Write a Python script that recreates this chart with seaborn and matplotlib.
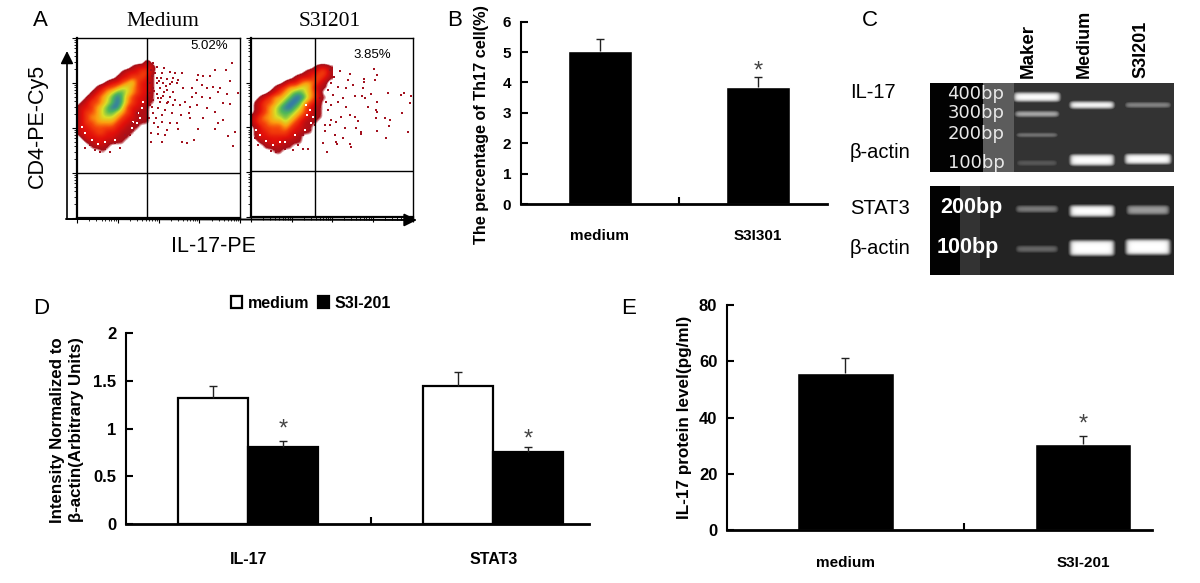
import numpy as np
import pandas as pd
import matplotlib
matplotlib.use("Agg")
import matplotlib.pyplot as plt
from matplotlib.colors import LinearSegmentedColormap
from matplotlib import font_manager as fm
import seaborn as sns

# ---------- data ----------
b_groups = ["medium", "S3I301"]
b_values = [5.02, 3.85]
b_tops = [5.42, 4.17]

d_genes = ["IL-17", "IL-17", "STAT3", "STAT3"]
d_treat = ["medium", "S3I-201", "medium", "S3I-201"]
d_values = [1.32, 0.81, 1.45, 0.75]
d_tops = [1.45, 0.87, 1.59, 0.81]

e_groups = ["medium", "S3I-201"]
e_values = [55.7, 30.5]
e_tops = [61.2, 33.5]

# flow-plot density levels (0 empty ... 7 blue core)
medium_density = [
    "00000000000000000", "00000000000000200", "00000000000122220", "00000000012223310",
    "00000000122333210", "00000012234532210", "00001233455432210", "00012345665432210",
    "00123456764322110", "01233456764322110", "12234567753221100", "12334566543211100",
    "12344555432211100", "12334444322111100", "12233333221110000", "12223322211100000",
    "01222222111000000", "00112211110000000", "00011110000000000", "00000100000000000",
    "00000000000000000"]
s3i_density = [
    "00000000000000000", "00000000000000000", "00000000000001221", "00000000000122331",
    "00000000012223321", "00000001223443210", "00000123445542110", "00001234566543100",
    "00123445677643110", "01233456776432100", "01234567765321100", "01234566654321100",
    "12344556543211100", "12334445432111000", "01233334322110000", "01223333221110000",
    "01222222211000000", "00112221111000000", "00011111100000000", "00000110000000000",
    "00000000000000000"]
medium_dots_x = [235,245,268,228,240,262,285,300,320,245,258,275,295,310,225,245,265,285,305,325,235,255,275,295,225,245,265,285,300,235,255,275,225,250,270,295,315,345,365,235,260,290,318,342,238,260,285,305,222,248,275,310,368,228,250,270,228,262,322,335,358,368,385,405,420,452,470,365,380,350,362,380,405,430,445,465,395,420,385,345,445,430,420,460,480,490,475,465,435,455,330,350,395,415,60,75,105,30,120,135,150,165,175,190,200,185,170,45,90,232,252,272,238,248,268,292,232,258,242,280]
medium_dots_y = [25,35,38,45,55,55,50,55,55,70,68,72,70,75,85,85,85,88,85,98,100,100,105,110,115,118,122,125,135,135,140,145,150,160,165,150,150,155,150,175,180,175,180,175,205,200,205,205,190,215,225,222,222,235,238,240,260,262,262,265,255,60,62,62,45,45,25,75,90,100,115,125,128,112,145,148,160,170,190,190,195,205,222,242,230,115,272,78,100,118,140,125,100,95,285,290,290,280,265,280,240,240,225,210,195,175,205,270,282,62,78,92,108,130,112,80,155,128,190,140]
s3i_dots_x = [245,275,305,258,348,348,382,378,388,300,315,250,270,295,345,240,255,285,320,342,352,368,420,460,468,490,485,235,250,270,295,388,360,385,388,462,240,280,305,320,385,410,425,250,265,330,230,245,290,325,422,230,265,268,340,340,388,262,285,305,310,238,225,415,480,180,165,70,85,110,135,150,165,185,30,20,200,215]
s3i_dots_y = [45,48,58,65,72,80,75,42,60,75,90,85,95,100,100,105,120,130,122,122,128,118,115,120,115,122,145,140,150,140,155,140,155,165,172,175,165,185,180,185,190,190,195,195,200,198,210,210,220,220,212,228,260,268,230,238,228,240,250,268,275,290,265,248,232,282,282,288,292,282,285,270,240,225,270,250,210,130]
# small gaps in the fringe of each cloud
medium_gaps_x = [175,190,200,185,170,30,50,90,205,195,180,120,70,20]
medium_gaps_y = [200,175,160,205,220,235,255,260,140,190,235,255,268,215]
s3i_gaps_x = [178,190,170,185,140,35,55,95,195,175,110,75,25]
s3i_gaps_y = [180,205,225,165,240,240,258,262,185,150,262,270,225]

# gel bands: lane centre, half width, band position, half height, brightness
gel1_lane = [107, 107, 107, 107, 162, 162, 218, 218]
gel1_half = [23, 22, 21, 21, 22, 22, 23, 23]
gel1_pos = [14, 31, 52, 80, 22, 77, 22, 76]
gel1_thick = [4.5, 3, 2.5, 3.5, 3.5, 5.5, 3, 5]
gel1_bright = [1.0, 0.7, 0.5, 0.36, 1.0, 1.0, 0.55, 1.0]
gel2_lane = [107, 107, 162, 162, 218, 218]
gel2_half = [21, 21, 22, 22, 21, 22]
gel2_pos = [23, 63, 25, 62, 24, 61]
gel2_thick = [3.5, 3.5, 5.5, 7.5, 4.5, 7.5]
gel2_bright = [0.5, 0.42, 1.0, 1.0, 0.62, 1.0]

# ---------- style ----------
sns.set_style("ticks")
W, H = 1200, 583
SANS = "Liberation Sans"
plt.rcParams["font.family"] = [SANS, "DejaVu Sans"]
plt.rcParams["axes.edgecolor"] = "black"
plt.rcParams["xtick.color"] = "black"
plt.rcParams["ytick.color"] = "black"
plt.rcParams["text.color"] = "black"
plt.rcParams["axes.labelcolor"] = "black"

fig = plt.figure(figsize=(W / 100, H / 100), dpi=100, facecolor="white")


def ax_px(l, t, r, b):
    return fig.add_axes([l / W, 1 - b / H, (r - l) / W, (b - t) / H])


flow_cmap = LinearSegmentedColormap.from_list(
    "flow",
    [(0.0, "white"), (0.5 / 7, "white"), (0.85 / 7, "#a80f18"), (2 / 7, "#e2100a"), (3 / 7, "#f4400a"),
     (4 / 7, "#fca010"), (5 / 7, "#d8e028"), (6 / 7, "#50b858"), (1.0, "#2f6fb4")])


def flow_panel(box, density, dx, dy, gx, gy, xlim, ylim, gate_x, gate_y):
    ax = ax_px(*box)
    grid = np.array([[int(c) for c in row] for row in density], dtype=float)
    ax.imshow(grid, cmap=flow_cmap, vmin=0, vmax=7, extent=(0, 255, 315, 0), aspect="auto",
              interpolation="bicubic", interpolation_stage="data", zorder=1)
    sns.scatterplot(x=gx, y=gy, marker="s", s=2, color="white", linewidth=0, ax=ax, zorder=2, legend=False)
    sns.scatterplot(x=dx, y=dy, marker="s", s=3.6, color="#a3121f", linewidth=0, ax=ax, zorder=3, legend=False)
    ax.set_xlim(*xlim)
    ax.set_ylim(*ylim)
    ax.axvline(gate_x, color="black", lw=1, zorder=5)
    ax.axhline(gate_y, color="black", lw=1, zorder=5)
    span_x = (xlim[1] - xlim[0]) / 4
    span_y = (ylim[0] - ylim[1]) / 4
    ax.set_xticks([xlim[0] + span_x * k for k in range(5)])
    ax.set_yticks([ylim[0] - span_y * k for k in range(5)])
    ax.set_xticks([xlim[0] + span_x * (k + np.log10(m)) for k in range(4) for m in range(2, 10)], minor=True)
    ax.set_yticks([ylim[0] - span_y * (k + np.log10(m)) for k in range(4) for m in range(2, 10)], minor=True)
    ax.tick_params(which="major", length=3.5, width=0.8, labelleft=False, labelbottom=False, direction="out")
    ax.tick_params(which="minor", length=2, width=0.6, direction="out")
    for s in ax.spines.values():
        s.set_linewidth(1.0)
    ax.spines["left"].set_linewidth(1.6)
    ax.spines["bottom"].set_linewidth(1.6)
    return ax


flow_panel((77, 38, 240, 218), medium_density, medium_dots_x, medium_dots_y, medium_gaps_x, medium_gaps_y,
           (6, 495), (489, -51), 216, 354)
flow_panel((251, 38, 413, 217), s3i_density, s3i_dots_x, s3i_dots_y, s3i_gaps_x, s3i_gaps_y,
           (9, 495), (486, -51), 201, 348)


def bar_axes(ax, ylim, yticks, ylabels, xlim, tick_size, cat_size):
    ax.set_xlim(*xlim)
    ax.set_ylim(*ylim)
    ax.set_yticks(yticks)
    ax.set_yticklabels(ylabels, fontsize=tick_size, fontweight="bold")
    for lab in ax.get_xticklabels():
        lab.set_fontsize(cat_size)
        lab.set_fontweight("bold")
    ax.set_xticks([0.5], minor=True)
    ax.tick_params(axis="x", which="major", length=0)
    ax.tick_params(axis="x", which="minor", length=5, width=1.5, direction="in")
    ax.tick_params(axis="y", length=5, width=1.5, direction="in", pad=7)
    sns.despine(ax=ax)
    ax.spines["left"].set_linewidth(1.5)
    ax.spines["bottom"].set_linewidth(2)
    ax.spines["bottom"].set_zorder(6)
    ax.set_xlabel("")


def err(ax, xs, values, tops):
    vals = np.array(values)
    bars = ax.errorbar(xs, vals, yerr=[np.zeros_like(vals), np.array(tops) - vals], fmt="none", ecolor="#222222",
                       elinewidth=1, capsize=2.6, capthick=1, zorder=1)
    bars[1][0].set_visible(False)


def star(ax, x, y, dy):
    ax.annotate("*", (x, y), xytext=(0, dy), textcoords="offset points", ha="center", va="center",
                fontsize=17, color="#444444")


# ---------- B ----------
axb = ax_px(521, 21.7, 827, 204)
sns.barplot(x=b_groups, y=b_values, order=b_groups, color="black", saturation=1, width=0.41, ax=axb, errorbar=None)
err(axb, [0, 1], b_values, b_tops)
bar_axes(axb, (0, 6), range(7), list("0123456"), (-0.5, 1.437), 11, 11)
axb.tick_params(axis="x", which="major", pad=18)
axb.set_ylabel("The percentage of Th17 cell(%)", fontsize=11.7, fontweight="bold")
axb.yaxis.set_label_coords((489 - 521) / 306, (204 - 125) / 182.3)
star(axb, 1, b_tops[1], 4)

# ---------- D ----------
axd = ax_px(126, 333.3, 589, 524)
frame_d = pd.DataFrame({"gene": d_genes, "treatment": d_treat, "value": d_values})
sns.barplot(data=frame_d, x="gene", y="value", hue="treatment", hue_order=["medium", "S3I-201"],
            palette={"medium": "white", "S3I-201": "black"}, saturation=1, width=0.57, edgecolor="black",
            linewidth=1.6, ax=axd, errorbar=None)
centers = [p.get_x() + p.get_width() / 2 for c in axd.containers for p in c]
med_x, s3i_x = centers[:2], centers[2:]
err(axd, med_x, d_values[0::2], d_tops[0::2])
err(axd, s3i_x, d_values[1::2], d_tops[1::2])
bar_axes(axd, (0, 2), [0, 0.5, 1, 1.5, 2], ["0", "0.5", "1", "1.5", "2"], (-0.498, 1.39), 12, 11.5)
axd.tick_params(axis="x", which="major", pad=20)
axd.set_ylabel("Intensity Normalized to\n\u03b2-actin(Arbitrary Units)", fontsize=12.2, fontweight="bold", linespacing=1.3)
axd.yaxis.set_label_coords((84 - 126) / 463, (524 - 430) / 190.7)
star(axd, s3i_x[0], d_tops[1], 8)
star(axd, s3i_x[1], d_tops[3], 5)
sns.move_legend(axd, "center", bbox_to_anchor=((311 - 126) / 463, (524 - 303) / 190.7), ncol=2, frameon=False,
                title=None, handlelength=0.7, handleheight=0.8, handletextpad=0.35, columnspacing=0.5,
                prop=fm.FontProperties(family=SANS, weight="bold", size=11.5))

# ---------- E ----------
axe = ax_px(727, 305, 1151.5, 530)
sns.barplot(x=e_groups, y=e_values, order=e_groups, color="black", saturation=1, width=0.406, ax=axe, errorbar=None)
err(axe, [0, 1], e_values, e_tops)
bar_axes(axe, (0, 80), [0, 20, 40, 60, 80], ["0", "20", "40", "60", "80"], (-0.498, 1.288), 12, 11)
axe.tick_params(axis="x", which="major", pad=19)
axe.set_ylabel("IL-17 protein level(pg/ml)", fontsize=12.3, fontweight="bold")
axe.yaxis.set_label_coords((692 - 727) / 424.5, (530 - 417) / 225)
star(axe, 1, e_tops[1], 8)


# ---------- C: gels ----------
def gel_image(strip, fade_end, fade_level, base, lanes, halves, pos, thick, bright, rows):
    xx = np.arange(244) + 0.5
    yy = np.arange(rows) + 0.5
    img = np.full((rows, 244), base, dtype=float)
    img[:, xx < strip] = 0.01
    fade = (xx >= strip) & (xx < fade_end)
    img[:, fade] = fade_level
    edge = lambda v: 1 / (1 + np.exp(v))
    for lane, hw, p, t, b in zip(lanes, halves, pos, thick, bright):
        across = edge((np.abs(xx - lane) - hw) / 1.4)
        down = edge((np.abs(yy - p) - t) / 1.1)
        img = np.maximum(img, b * np.outer(down, across))
    return img


def gel_panel(box, img):
    ax = ax_px(*box)
    sns.heatmap(img, cmap="gray", vmin=0, vmax=1, cbar=False, xticklabels=False, yticklabels=False, ax=ax,
                rasterized=True)
    return ax


gel_panel((930, 83, 1174, 172), gel_image(53, 84, 0.36, 0.2, gel1_lane, gel1_half, gel1_pos, gel1_thick, gel1_bright, 89))
gel_panel((930, 186, 1174, 275), gel_image(30, 50, 0.2, 0.14, gel2_lane, gel2_half, gel2_pos, gel2_thick, gel2_bright, 89))

# ---------- annotations ----------
ov = fig.add_axes([0, 0, 1, 1], facecolor="none", zorder=20)
ov.set_xlim(0, W)
ov.set_ylim(H, 0)
ov.axis("off")


def t(x, y, s, size=14, family=SANS, weight="normal", color="black", rotation=0, ha="center", va="center"):
    ov.text(x, y, s, fontsize=size, fontfamily=family, fontweight=weight, color=color, rotation=rotation,
            ha=ha, va=va)


for x, y, s in [(40, 21, "A"), (455, 21, "B"), (870, 20, "C"), (41, 309, "D"), (629, 309, "E")]:
    t(x, y, s, size=16)
t(163, 21, "Medium", size=15.5, family="Liberation Serif")
t(330, 21, "S3I201", size=15.5, family="Liberation Serif")
t(209, 46, "5.02%", size=9.5)
t(372, 55, "3.85%", size=9.5)
t(37, 126, "CD4-PE-Cy5", size=15.5, rotation=90)
t(213, 247, "IL-17-PE", size=15.5)
ov.annotate("", xy=(67, 51), xytext=(67, 219), arrowprops=dict(arrowstyle="-|>", lw=1.2, color="black", mutation_scale=19, shrinkA=0, shrinkB=0))
ov.annotate("", xy=(417, 220), xytext=(66, 219), arrowprops=dict(arrowstyle="-|>", lw=1.4, color="black", mutation_scale=19, shrinkA=0, shrinkB=0))

t(850, 93, "IL-17", size=14.5, ha="left")
t(850, 152, "\u03b2-actin", size=14.5, ha="left")
t(850, 209, "STAT3", size=14.5, ha="left")
t(850, 248, "\u03b2-actin", size=14.5, ha="left")
t(1028, 78, "Maker", size=13.5, weight="bold", rotation=90, va="bottom")
t(1084, 78, "Medium", size=13, weight="bold", rotation=90, va="bottom")
t(1141, 78, "S3I201", size=13, weight="bold", rotation=90, va="bottom")
for y, s in [(94, "400bp"), (113, "300bp"), (134, "200bp"), (163, "100bp")]:
    t(976, y, s, size=13, family="DejaVu Sans", color="#e8e8e8")
t(971, 208, "200bp", size=15.5, weight="bold", color="white")
t(968, 247, "100bp", size=15.5, weight="bold", color="white")

fig.savefig("out.png", dpi=100, facecolor="white")
